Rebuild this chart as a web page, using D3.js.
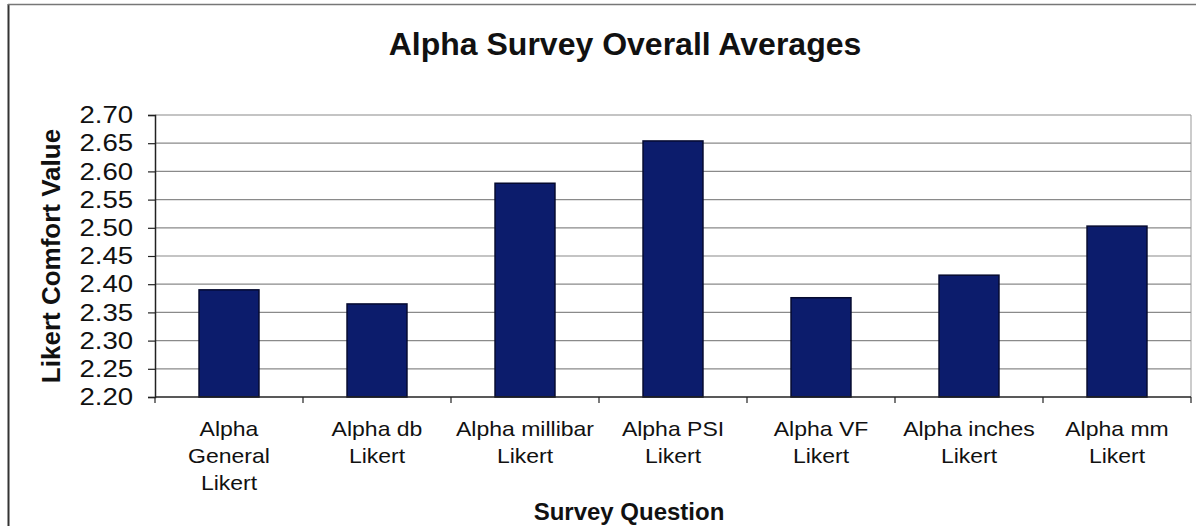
<!DOCTYPE html>
<html>
<head>
<meta charset="utf-8">
<script src="https://cdn.jsdelivr.net/npm/d3@7"></script>
<style>
  body { margin: 0; background: #fff; }
  text { font-family: "Liberation Sans", Arial, sans-serif; fill: #111; }
</style>
</head>
<body>
<svg id="chart" width="1201" height="529"></svg>
<script>
// categories, one label line per array entry
let categories = [
  ["Alpha", "General", "Likert"],
  ["Alpha db", "Likert"],
  ["Alpha millibar", "Likert"],
  ["Alpha PSI", "Likert"],
  ["Alpha VF", "Likert"],
  ["Alpha inches", "Likert"],
  ["Alpha mm", "Likert"],
];

// averages
let values = [2.39, 2.365, 2.579, 2.654, 2.376, 2.416, 2.503];

let yTicks = [2.2, 2.25, 2.3, 2.35, 2.4, 2.45, 2.5, 2.55, 2.6, 2.65, 2.7];

let svg = d3.select("#chart");

// plot area
let plotLeft = 155, plotRight = 1191, plotTop = 115, plotBottom = 397;

let keys = categories.map((c) => c.join(" "));

let x = d3.scaleBand()
  .domain(keys)
  .range([plotLeft, plotRight])
  .paddingInner(0.595)
  .paddingOuter(0.2975);

let y = d3.scaleLinear().domain([2.2, 2.7]).range([plotBottom, plotTop]);

// outer frame (left and top edges only show in the scan)
svg.append("line")
  .attr("x1", 8.5).attr("x2", 8.5).attr("y1", 4).attr("y2", 526)
  .attr("stroke", "#333").attr("stroke-width", 2);
svg.append("line")
  .attr("x1", 8).attr("x2", 1196).attr("y1", 4.5).attr("y2", 4.5)
  .attr("stroke", "#777").attr("stroke-width", 1.5);

// gridlines
svg.append("g")
  .selectAll("line")
  .data(yTicks.slice(1))
  .enter()
  .append("line")
  .attr("x1", plotLeft).attr("x2", plotRight)
  .attr("y1", (d) => y(d)).attr("y2", (d) => y(d))
  .attr("stroke", "#8a8a8a").attr("stroke-width", 1.2);

// right edge of plot area
svg.append("line")
  .attr("x1", plotRight).attr("x2", plotRight).attr("y1", plotTop).attr("y2", plotBottom)
  .attr("stroke", "#999").attr("stroke-width", 1);

// bars
svg.append("g")
  .selectAll("rect")
  .data(values)
  .enter()
  .append("rect")
  .attr("x", (d, i) => x(keys[i]))
  .attr("width", x.bandwidth())
  .attr("y", (d) => y(d))
  .attr("height", (d) => plotBottom - y(d))
  .attr("fill", "#0c1c6c")
  .attr("stroke", "#050a30")
  .attr("stroke-width", 1.5);

// y axis
let yAxis = d3.axisLeft(y)
  .tickValues(yTicks)
  .tickFormat(d3.format(".2f"))
  .tickSize(7)
  .tickPadding(12);

let yg = svg.append("g").attr("transform", `translate(${plotLeft},0)`).call(yAxis);
yg.select(".domain").attr("stroke", "#222").attr("stroke-width", 1.5);
yg.selectAll(".tick line").attr("stroke", "#222").attr("stroke-width", 1.2);
// the scan is a little wider than tall, so stretch the numbers sideways
yg.selectAll(".tick text")
  .attr("font-size", 24)
  .attr("font-family", "Liberation Sans, Arial, sans-serif")
  .attr("fill", "#111")
  .attr("transform", "scale(1.15,1)");

// x axis: line plus ticks at category boundaries
let step = x.step();
svg.append("line")
  .attr("x1", plotLeft).attr("x2", plotRight).attr("y1", plotBottom).attr("y2", plotBottom)
  .attr("stroke", "#222").attr("stroke-width", 1.5);
svg.append("g")
  .selectAll("line")
  .data(d3.range(categories.length + 1))
  .enter()
  .append("line")
  .attr("x1", (d) => plotLeft + d * step).attr("x2", (d) => plotLeft + d * step)
  .attr("y1", plotBottom).attr("y2", plotBottom + 6)
  .attr("stroke", "#222").attr("stroke-width", 1.2);

// category labels
let lab = svg.append("g")
  .selectAll("text")
  .data(categories)
  .enter()
  .append("text")
  .attr("text-anchor", "middle")
  .attr("font-size", 20)
  .attr("transform", (d, i) => `translate(${x(keys[i]) + x.bandwidth() / 2},436) scale(1.15,1)`);

lab.selectAll("tspan")
  .data((d) => d)
  .enter()
  .append("tspan")
  .attr("x", 0)
  .attr("y", (d, i) => i * 27)
  .text((d) => d);

// titles
svg.append("text")
  .attr("x", 625).attr("y", 55)
  .attr("text-anchor", "middle")
  .attr("font-size", 32)
  .attr("font-weight", "bold")
  .text("Alpha Survey Overall Averages");

svg.append("text")
  .attr("transform", "translate(60,256) rotate(-90)")
  .attr("text-anchor", "middle")
  .attr("font-size", 26)
  .attr("font-weight", "bold")
  .text("Likert Comfort Value");

svg.append("text")
  .attr("x", 629).attr("y", 520)
  .attr("text-anchor", "middle")
  .attr("font-size", 24)
  .attr("font-weight", "bold")
  .text("Survey Question");
</script>
</body>
</html>
